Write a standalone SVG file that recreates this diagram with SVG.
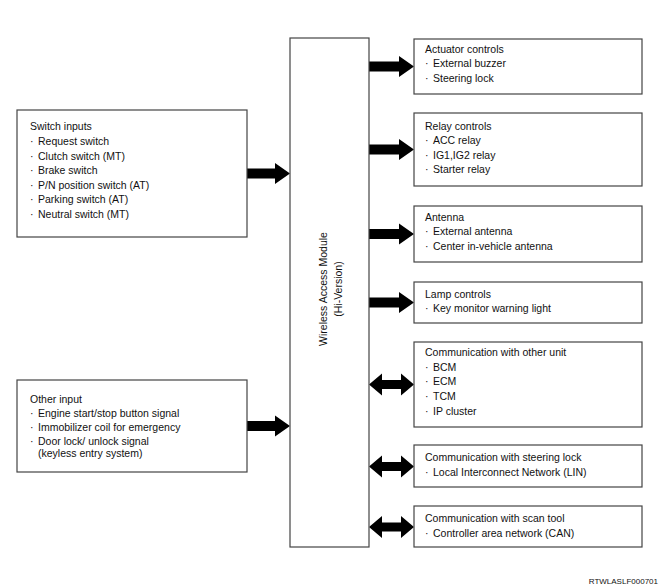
<svg xmlns="http://www.w3.org/2000/svg" xmlns:xlink="http://www.w3.org/1999/xlink" width="661" height="586" viewBox="0 0 661 586">
<style>
.box{fill:#fff;stroke:#444;stroke-width:1.2}
text{font-family:"Liberation Sans",Arial,sans-serif;font-size:10.5px;fill:#111}
.arr{fill:#000}
.foot{font-size:8px}
</style>
<defs>
<path id="aR" d="M0,-5 H30 V-10.5 L45,0 L30,10.5 V5 H0 Z"/>
<path id="aD" d="M0,0 L13,-11 V-4.5 H32 V-11 L45,0 L32,11 V4.5 H13 V11 Z"/>
</defs>
<rect width="661" height="586" fill="#fff"/>

<g id="connectors" class="arr">
<use xlink:href="#aR" transform="translate(245,173.5)"/>
<use xlink:href="#aR" transform="translate(245,426)"/>
<use xlink:href="#aR" transform="translate(369,66.5)"/>
<use xlink:href="#aR" transform="translate(369,149.5)"/>
<use xlink:href="#aR" transform="translate(369,234)"/>
<use xlink:href="#aR" transform="translate(369,302.5)"/>
<use xlink:href="#aD" transform="translate(369,384.5)"/>
<use xlink:href="#aD" transform="translate(369,466.5)"/>
<use xlink:href="#aD" transform="translate(369,527)"/>
</g>

<g id="module">
<rect class="box" x="290" y="38" width="79" height="509"/>
<text transform="translate(327,289) rotate(-90)" text-anchor="middle">Wireless Access Module</text>
<text transform="translate(342,289) rotate(-90)" text-anchor="middle">(Hi-Version)</text>
</g>

<g id="switch-inputs">
<rect class="box" x="17" y="110" width="230" height="127"/>
<text x="30" y="129.5">Switch inputs</text>
<text y="145"><tspan x="30">· </tspan><tspan x="38">Request switch</tspan></text>
<text y="159.5"><tspan x="30">· </tspan><tspan x="38">Clutch switch (MT)</tspan></text>
<text y="174"><tspan x="30">· </tspan><tspan x="38">Brake switch</tspan></text>
<text y="188.5"><tspan x="30">· </tspan><tspan x="38">P/N position switch (AT)</tspan></text>
<text y="203"><tspan x="30">· </tspan><tspan x="38">Parking switch (AT)</tspan></text>
<text y="217.5"><tspan x="30">· </tspan><tspan x="38">Neutral switch (MT)</tspan></text>
</g>

<g id="other-input">
<rect class="box" x="17" y="380" width="230" height="92"/>
<text x="30" y="403">Other input</text>
<text y="417"><tspan x="30">· </tspan><tspan x="38">Engine start/stop button signal</tspan></text>
<text y="431"><tspan x="30">· </tspan><tspan x="38">Immobilizer coil for emergency</tspan></text>
<text y="445"><tspan x="30">· </tspan><tspan x="38">Door lock/ unlock signal</tspan></text>
<text x="38" y="456.5">(keyless entry system)</text>
</g>

<g id="actuator-controls">
<rect class="box" x="414" y="39" width="228" height="55"/>
<text x="425" y="52.5">Actuator controls</text>
<text y="67"><tspan x="425">· </tspan><tspan x="433">External buzzer</tspan></text>
<text y="81.5"><tspan x="425">· </tspan><tspan x="433">Steering lock</tspan></text>
</g>

<g id="relay-controls">
<rect class="box" x="414" y="113" width="228" height="73"/>
<text x="425" y="129.5">Relay controls</text>
<text y="144"><tspan x="425">· </tspan><tspan x="433">ACC relay</tspan></text>
<text y="158.5"><tspan x="425">· </tspan><tspan x="433">IG1,IG2 relay</tspan></text>
<text y="172.5"><tspan x="425">· </tspan><tspan x="433">Starter relay</tspan></text>
</g>

<g id="antenna">
<rect class="box" x="414" y="206" width="228" height="56"/>
<text x="425" y="220.5">Antenna</text>
<text y="235"><tspan x="425">· </tspan><tspan x="433">External antenna</tspan></text>
<text y="249.5"><tspan x="425">· </tspan><tspan x="433">Center in-vehicle antenna</tspan></text>
</g>

<g id="lamp-controls">
<rect class="box" x="414" y="282" width="228" height="41"/>
<text x="425" y="298">Lamp controls</text>
<text y="312"><tspan x="425">· </tspan><tspan x="433">Key monitor warning light</tspan></text>
</g>

<g id="comm-other-unit">
<rect class="box" x="414" y="342" width="228" height="85"/>
<text x="425" y="355.5">Communication with other unit</text>
<text y="370.5"><tspan x="425">· </tspan><tspan x="433">BCM</tspan></text>
<text y="385"><tspan x="425">· </tspan><tspan x="433">ECM</tspan></text>
<text y="400"><tspan x="425">· </tspan><tspan x="433">TCM</tspan></text>
<text y="414.5"><tspan x="425">· </tspan><tspan x="433">IP cluster</tspan></text>
</g>

<g id="comm-steering-lock">
<rect class="box" x="414" y="445" width="228" height="42"/>
<text x="425" y="461">Communication with steering lock</text>
<text y="475.5"><tspan x="425">· </tspan><tspan x="433">Local Interconnect Network (LIN)</tspan></text>
</g>

<g id="comm-scan-tool">
<rect class="box" x="414" y="506" width="228" height="41"/>
<text x="425" y="522">Communication with scan tool</text>
<text y="536.5"><tspan x="425">· </tspan><tspan x="433">Controller area network (CAN)</tspan></text>
</g>

<text class="foot" x="658" y="584" text-anchor="end">RTWLASLF000701</text>
</svg>
